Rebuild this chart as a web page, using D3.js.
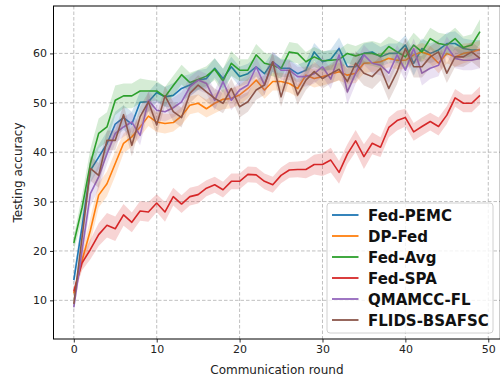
<!DOCTYPE html>
<html>
<head>
<meta charset="utf-8">
<script src="https://cdn.jsdelivr.net/npm/d3@7"></script>
<style>
  body { margin: 0; background: #fff; }
  svg { display: block; font-family: "DejaVu Sans", sans-serif; }
</style>
</head>
<body>
<div id="main"></div>
<script>
var width = 500;
var height = 381;

// rounds 0..49
var rounds = d3.range(0, 50);

var names = ["Fed-PEMC", "DP-Fed", "Fed-Avg", "Fed-SPA", "QMAMCC-FL", "FLIDS-BSAFSC"];
var colors = ["#1f77b4", "#ff7f0e", "#2ca02c", "#d62728", "#9467bd", "#8c564b"];

var fedPEMC = [14.1,25.0,36.3,39.0,41.7,45.7,47.0,45.7,50.1,50.2,52.1,51.2,51.5,52.9,53.6,54.6,54.9,57.0,54.9,57.3,
  55.3,55.9,57.3,55.9,58.3,57.0,57.0,55.9,56.6,60.3,58.3,58.8,61.0,57.3,57.3,60.0,60.3,59.3,60.0,60.0,
  61.7,58.0,61.0,60.0,60.7,62.0,62.0,61.0,60.7,60.7];
var dpFed = [11.4,18.1,24.2,31.3,33.6,37.7,41.8,43.1,45.1,47.3,46.1,45.8,46.0,47.3,49.5,49.9,48.8,49.9,50.7,50.9,
  51.6,52.9,54.6,52.6,54.3,54.3,53.9,52.9,55.6,54.9,55.3,55.8,56.3,55.6,56.0,58.0,58.1,58.3,59.0,58.6,
  58.6,59.7,60.3,59.7,58.0,60.0,59.3,60.0,60.3,60.8];
var fedAvg = [21.6,28.8,37.7,43.8,45.1,50.5,51.4,51.4,52.4,52.4,52.4,51.2,53.5,55.7,54.1,54.7,55.4,56.8,54.4,58.0,
  56.6,56.6,59.7,58.0,57.6,56.9,60.3,60.0,58.3,59.3,58.5,58.6,58.8,60.0,59.5,60.0,60.0,59.5,61.4,60.3,
  59.3,61.7,60.3,63.0,62.0,61.7,63.0,61.2,61.7,64.4];
var fedSPA = [11.8,17.6,20.3,23.3,25.2,24.5,27.3,25.8,28.1,27.9,29.7,27.9,31.0,29.5,31.0,31.4,32.7,33.4,32.4,34.1,
  34.1,35.5,35.4,34.1,33.4,35.3,36.4,36.5,36.5,37.5,37.5,38.4,35.9,39.6,42.3,39.1,41.8,41.0,45.0,46.4,
  47.0,44.1,45.2,46.2,45.2,47.5,51.0,49.9,49.9,51.5];
var qmamcc = [8.6,20.1,31.6,35.0,39.7,43.8,45.1,46.1,43.4,50.5,48.5,48.2,49.0,50.2,53.2,54.6,53.9,50.5,54.3,50.5,
  52.6,53.6,57.3,53.6,58.3,56.6,56.6,55.3,55.3,55.9,57.3,54.8,59.7,52.2,56.0,59.7,58.0,57.6,56.0,59.7,
  56.6,61.0,56.0,57.0,57.6,61.4,59.0,58.6,58.6,59.0];
var flids = [9.3,22.8,36.7,35.3,42.4,42.4,47.6,41.4,47.2,50.2,45.5,51.4,48.2,47.0,51.9,53.6,52.2,50.9,49.9,52.9,
  49.2,50.2,52.6,53.6,58.3,51.2,56.6,51.6,54.6,56.3,54.9,55.9,56.8,54.3,58.0,56.0,55.3,57.0,52.9,56.3,
  61.0,57.3,57.3,59.3,60.3,56.0,59.3,59.3,60.3,59.0];

// half width of the shaded band, per round
var bandPEMC = [1.5,2,2.5,2.5,2.5,2.5,2.5,2.5,2.2,2,2,2,2.5,2.5,2.2,2,2,2,2,2,2,2,2,2,2,1.8,1.8,1.8,1.8,1.8,
  2,2,2.2,2.5,2.8,2,2,2,2,2,2,2.5,2,2,2,2.2,2.5,2,2,2];
var bandDP = [1,1.5,2.5,2.5,2.5,2.5,2,2,2,2,2,2,1.8,1.8,1.8,1.8,1.8,2,2,2,2,2,1.8,1.8,1.8,1.8,1.8,1.8,1.8,1.8,
  1.8,1.8,1.8,1.8,2,2,1.8,1.8,1.8,1.8,1.8,1.8,1.8,1.8,2,2,2,2,1.8,1.8];
var bandAvg = [1.5,2.5,3,3,3,3,2.5,2.5,2.5,2.2,2,2,2,2,2,2,2,2.2,2.5,2.5,2.2,2.2,2.2,2.2,2.2,2,2,2,2,2,
  2,2,2,2,2,2.2,2.5,2.5,2,2.2,2.5,2.5,2.2,2.2,2.2,2.2,2.2,2.2,2.2,2.5];
var bandSPA = [0.8,1.5,2,2.3,2.5,2.5,2.2,2,2,2,1.8,2,1.8,1.8,1.8,1.8,1.6,1.6,1.6,1.6,1.6,1.6,1.6,1.6,1.6,1.6,1.6,1.6,1.8,2,
  2.3,2.5,2.3,2,2.2,2.5,2.2,2,2,2,1.8,1.8,1.8,1.8,1.8,1.8,1.8,1.8,1.8,1.8];
var bandQM = [1,2,2.5,2.5,2.2,2,2,2,2,2,2,2,2,2,2,2,2,2,2,2,2,2,2,2,2,2,2,2,2,2,
  2,2,2,2.5,2.2,2,2,2,2,2,2.2,2,2.5,2.2,2.2,2,2,2,2,2];
var bandFL = [1,2,2.5,2.5,2,2,2,2.2,2,2,2,2,2,2,2,2,2,2,2,2,2.2,2,2,2,2,2,2,2,2,2,
  2,2,2.2,2.5,2.5,2.5,2.5,2.5,2.5,2.5,2.2,2.2,2.2,2.2,2.2,2,2,2,2,2];

var xTicks = [0, 10, 20, 30, 40, 50];
var yTicks = [10, 20, 30, 40, 50, 60];

var series = [
  {name: names[0], color: colors[0], values: fedPEMC, band: bandPEMC},
  {name: names[1], color: colors[1], values: dpFed, band: bandDP},
  {name: names[2], color: colors[2], values: fedAvg, band: bandAvg},
  {name: names[3], color: colors[3], values: fedSPA, band: bandSPA},
  {name: names[4], color: colors[4], values: qmamcc, band: bandQM},
  {name: names[5], color: colors[5], values: flids, band: bandFL}
];

var LEFT = 53.5, RIGHT = 500.3, TOP = 6, BOTTOM = 339;

function init(){
  var svg = d3.select("#main")
    .append("svg")
    .attr("width", width)
    .attr("height", height);

  var x = d3.scaleLinear().domain([-2.45, 51.45]).range([LEFT, RIGHT]);
  var y = d3.scaleLinear().domain([2.17, 69.6]).range([BOTTOM, TOP]);

  // grid
  var grid = svg.append("g");
  grid.selectAll(".gx")
    .data(xTicks)
      .enter()
      .append("line")
      .attr("x1", function(d){ return x(d); })
      .attr("x2", function(d){ return x(d); })
      .attr("y1", TOP)
      .attr("y2", BOTTOM)
      .attr("stroke", "#b0b0b0")
      .attr("stroke-width", 0.8)
      .attr("stroke-dasharray", "3.5,2");
  grid.selectAll(".gy")
    .data(yTicks)
      .enter()
      .append("line")
      .attr("x1", LEFT)
      .attr("x2", RIGHT)
      .attr("y1", function(d){ return y(d); })
      .attr("y2", function(d){ return y(d); })
      .attr("stroke", "#b0b0b0")
      .attr("stroke-width", 0.8)
      .attr("stroke-dasharray", "3.5,2");

  var plot = svg.append("g");

  var area = d3.area()
    .x(function(d){ return x(d.r); })
    .y0(function(d){ return y(d.v - d.b); })
    .y1(function(d){ return y(d.v + d.b); });
  var line = d3.line()
    .x(function(d){ return x(d.r); })
    .y(function(d){ return y(d.v); });

  series.forEach(function(s){
    var pts = rounds.map(function(r, i){ return {r: r, v: s.values[i], b: s.band[i]}; });
    plot.append("path")
      .attr("d", area(pts))
      .attr("fill", s.color)
      .attr("fill-opacity", 0.2)
      .attr("stroke", "none");
    plot.append("path")
      .attr("d", line(pts))
      .attr("fill", "none")
      .attr("stroke", s.color)
      .attr("stroke-width", 1.6)
      .attr("stroke-linejoin", "round");
  });

  // axes
  var xAxis = svg.append("g")
    .attr("transform", "translate(0," + BOTTOM + ")")
    .call(d3.axisBottom(x).tickValues(xTicks).tickSize(3.5).tickPadding(3));
  var yAxis = svg.append("g")
    .attr("transform", "translate(" + LEFT + ",0)")
    .call(d3.axisLeft(y).tickValues(yTicks).tickSize(3.5).tickPadding(3));
  [xAxis, yAxis].forEach(function(a){
    a.select(".domain").remove();
    a.selectAll("text")
      .attr("font-family", "DejaVu Sans")
      .attr("font-size", 11)
      .attr("fill", "#222");
    a.selectAll("line").attr("stroke", "#000").attr("stroke-width", 0.8);
  });

  // frame
  svg.append("rect")
    .attr("x", LEFT)
    .attr("y", TOP)
    .attr("width", RIGHT - LEFT)
    .attr("height", BOTTOM - TOP)
    .attr("fill", "none")
    .attr("stroke", "#000")
    .attr("stroke-width", 1);

  svg.append("text")
    .attr("x", (LEFT + RIGHT) / 2)
    .attr("y", 374)
    .attr("text-anchor", "middle")
    .attr("font-size", 12)
    .attr("fill", "#222")
    .text("Communication round");
  svg.append("text")
    .attr("transform", "translate(22," + ((TOP + BOTTOM) / 2) + ") rotate(-90)")
    .attr("text-anchor", "middle")
    .attr("font-size", 12)
    .attr("fill", "#222")
    .text("Testing accuracy");

  // legend
  var lg = svg.append("g");
  lg.append("rect")
    .attr("x", 327)
    .attr("y", 203)
    .attr("width", 166)
    .attr("height", 130)
    .attr("rx", 3)
    .attr("fill", "#fff")
    .attr("fill-opacity", 0.8)
    .attr("stroke", "#d0d0d0")
    .attr("stroke-width", 1);
  var items = lg.selectAll(".item")
    .data(series)
      .enter()
      .append("g")
      .attr("transform", function(d, i){ return "translate(0," + (215 + i * 21) + ")"; });
  items.append("line")
    .attr("x1", 332)
    .attr("x2", 358.5)
    .attr("stroke", function(d){ return d.color; })
    .attr("stroke-width", 1.8);
  items.append("text")
    .attr("x", 368)
    .attr("y", 5.5)
    .attr("font-size", 15)
    .attr("font-weight", "bold")
    .attr("fill", "#111")
    .text(function(d){ return d.name; });
}
init();
</script>
</body>
</html>
